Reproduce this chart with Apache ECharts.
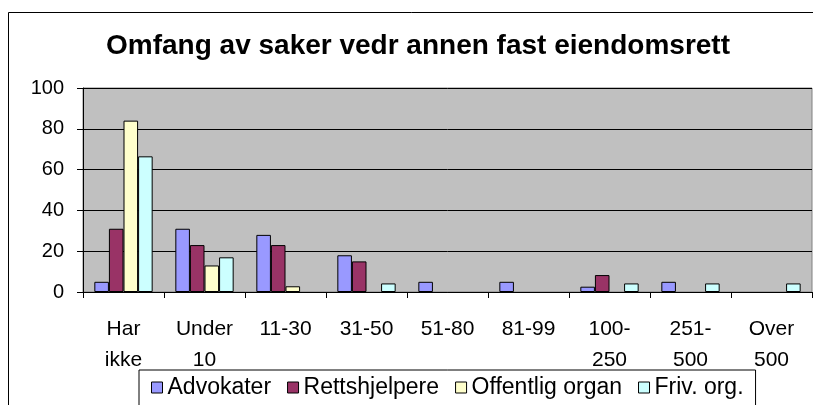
<!DOCTYPE html>
<html>
<head>
<meta charset="utf-8">
<script src="https://cdn.jsdelivr.net/npm/echarts@6/dist/echarts.min.js"></script>
<style>
  html, body { margin: 0; padding: 0; background: #fff; }
  #chart { width: 813px; height: 405px; }
</style>
</head>
<body>
<div id="chart"></div>
<script>
// kategorier og verdier lest av bildet (prosent)
const categories = ['Har\nikke', 'Under\n10', '11-30', '31-50', '51-80', '81-99', '100-\n250', '251-\n500', 'Over\n500'];
const advokater = [5, 31, 28, 18, 5, 5, 2.6, 5, '-'];
const rettshjelpere = [31, 23, 23, 15, '-', '-', 8.3, '-', '-'];
const offentligOrgan = [84, 13, 2.8, '-', '-', '-', '-', '-', '-'];
const frivOrg = [66.5, 17, '-', 4.2, '-', '-', 4.2, 4.2, 4.2];
const yTicks = { min: 0, max: 100, interval: 20 };

const font = 'Liberation Sans, Arial, sans-serif';

function bar(name, data, color) {
  return {
    name: name,
    type: 'bar',
    data: data,
    barGap: '0%',
    barCategoryGap: '28%',
    itemStyle: { color: color, borderColor: '#000', borderWidth: 1 }
  };
}

const chart = echarts.init(document.getElementById('chart'));
chart.setOption({
  animation: false,
  backgroundColor: '#fff',
  title: {
    text: 'Omfang av saker vedr annen fast eiendomsrett',
    left: 101,
    top: 27,
    textStyle: { fontFamily: font, fontSize: 28, fontWeight: 'bold', color: '#000' }
  },
  graphic: [{
    type: 'rect',
    shape: { x: 8.5, y: 12.5, width: 900, height: 500 },
    style: { fill: 'none', stroke: '#000', lineWidth: 1 },
    silent: true
  }],
  grid: {
    left: 83, right: 1, top: 88, bottom: 113,
    show: true,
    backgroundColor: '#c0c0c0',
    borderColor: '#808080',
    borderWidth: 1
  },
  legend: {
    left: 139,
    top: 370,
    padding: [6, 12, 30, 12],
    borderColor: '#000',
    borderWidth: 1,
    itemWidth: 11,
    itemHeight: 11,
    itemGap: 16,
    icon: 'rect',
    itemStyle: { borderColor: '#000', borderWidth: 1 },
    textStyle: { fontFamily: font, fontSize: 23, color: '#000' },
    data: ['Advokater', 'Rettshjelpere', 'Offentlig organ', 'Friv. org.']
  },
  xAxis: {
    type: 'category',
    data: categories,
    axisLine: { lineStyle: { color: '#000', width: 1 } },
    axisTick: { show: true, length: 6, lineStyle: { color: '#000' } },
    axisLabel: { fontFamily: font, fontSize: 21, color: '#000', lineHeight: 31, margin: 22, interval: 0, verticalAlign: 'top' }
  },
  yAxis: {
    type: 'value',
    min: yTicks.min,
    max: yTicks.max,
    interval: yTicks.interval,
    axisLine: { show: true, lineStyle: { color: '#000', width: 1 } },
    axisTick: { show: true, length: 6, lineStyle: { color: '#000' } },
    axisLabel: { fontFamily: font, fontSize: 20, color: '#000', margin: 19 },
    splitLine: { lineStyle: { color: '#000', width: 1 } }
  },
  series: [
    bar('Advokater', advokater, '#9999ff'),
    bar('Rettshjelpere', rettshjelpere, '#993366'),
    bar('Offentlig organ', offentligOrgan, '#ffffcc'),
    bar('Friv. org.', frivOrg, '#ccffff')
  ]
});
</script>
</body>
</html>
